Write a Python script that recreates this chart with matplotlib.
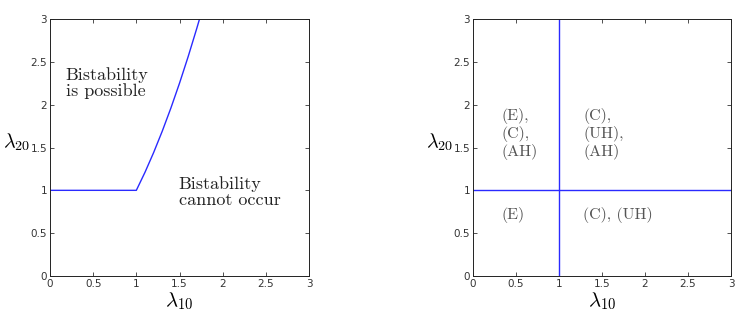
import matplotlib
matplotlib.use("Agg")
import matplotlib.pyplot as plt

plt.rcParams['mathtext.fontset'] = 'cm'
plt.rcParams['axes.unicode_minus'] = False

# Left panel boundary curve
left_x = [0, 1.0, 1.1, 1.2, 1.3, 1.4, 1.5, 1.6, 1.7, 1.732]
left_y = [1, 1.0, 1.21, 1.44, 1.69, 1.96, 2.25, 2.56, 2.89, 3.0]

# Right panel boundary lines
vline_x = [1, 1]
vline_y = [0, 3]
hline_x = [0, 3]
hline_y = [1, 1]

ticks = [0, 0.5, 1, 1.5, 2, 2.5, 3]
tick_labels = ['0', '0.5', '1', '1.5', '2', '2.5', '3']

left_texts = [(0.18, 2.25, 'Bistability\nis possible'),
              (1.49, 0.98, 'Bistability\ncannot occur')]
right_texts = [(0.33, 1.66, '(E),\n(C),\n(AH)'),
               (1.28, 1.66, '(C),\n(UH),\n(AH)'),
               (0.33, 0.71, '(E)'),
               (1.28, 0.71, '(C), (UH)')]

W, H = 746, 317
fig = plt.figure(figsize=(W / 100, H / 100), dpi=100)

def make_ax(left_px, right_px):
    top_px, bot_px = 19, 276
    width_px = right_px - left_px
    ax = fig.add_axes([left_px / W, 1 - bot_px / H, width_px / W, (bot_px - top_px) / H])
    ax.set_xlim(0, 3)
    ax.set_ylim(0, 3)
    ax.set_xticks(ticks)
    ax.set_yticks(ticks)
    ax.set_xticklabels(tick_labels)
    ax.set_yticklabels(tick_labels)
    ax.tick_params(direction='in', top=True, right=True, length=3, width=0.6,
                   labelsize=7.5, colors='#333333', pad=2)
    for s in ax.spines.values():
        s.set_linewidth(0.7)
        s.set_color('#222222')
    ax.set_xlabel(r'$\lambda_{10}$', fontsize=15, labelpad=1)
    ax.set_ylabel(r'$\lambda_{20}$', fontsize=14.5, rotation=0, ha='center', va='center')
    ax.yaxis.set_label_coords(-33 / width_px, 0.52)
    return ax

ax1 = make_ax(50, 309)
ax1.plot(left_x, left_y, color='#2a2aff', lw=1.0)
for x, y, t in left_texts:
    ax1.text(x, y, t, family='cmr10', fontsize=13, color='#222222',
             va='center', ha='left', linespacing=1.05)

ax2 = make_ax(473, 731)
ax2.plot(vline_x, vline_y, color='#2a2aff', lw=1.0)
ax2.plot(hline_x, hline_y, color='#2a2aff', lw=1.0)
for x, y, t in right_texts:
    ax2.text(x, y, t, family='cmr10', fontsize=11.5, color='#555555',
             va='center', ha='left', linespacing=1.15)

fig.savefig('out.png', dpi=100)
